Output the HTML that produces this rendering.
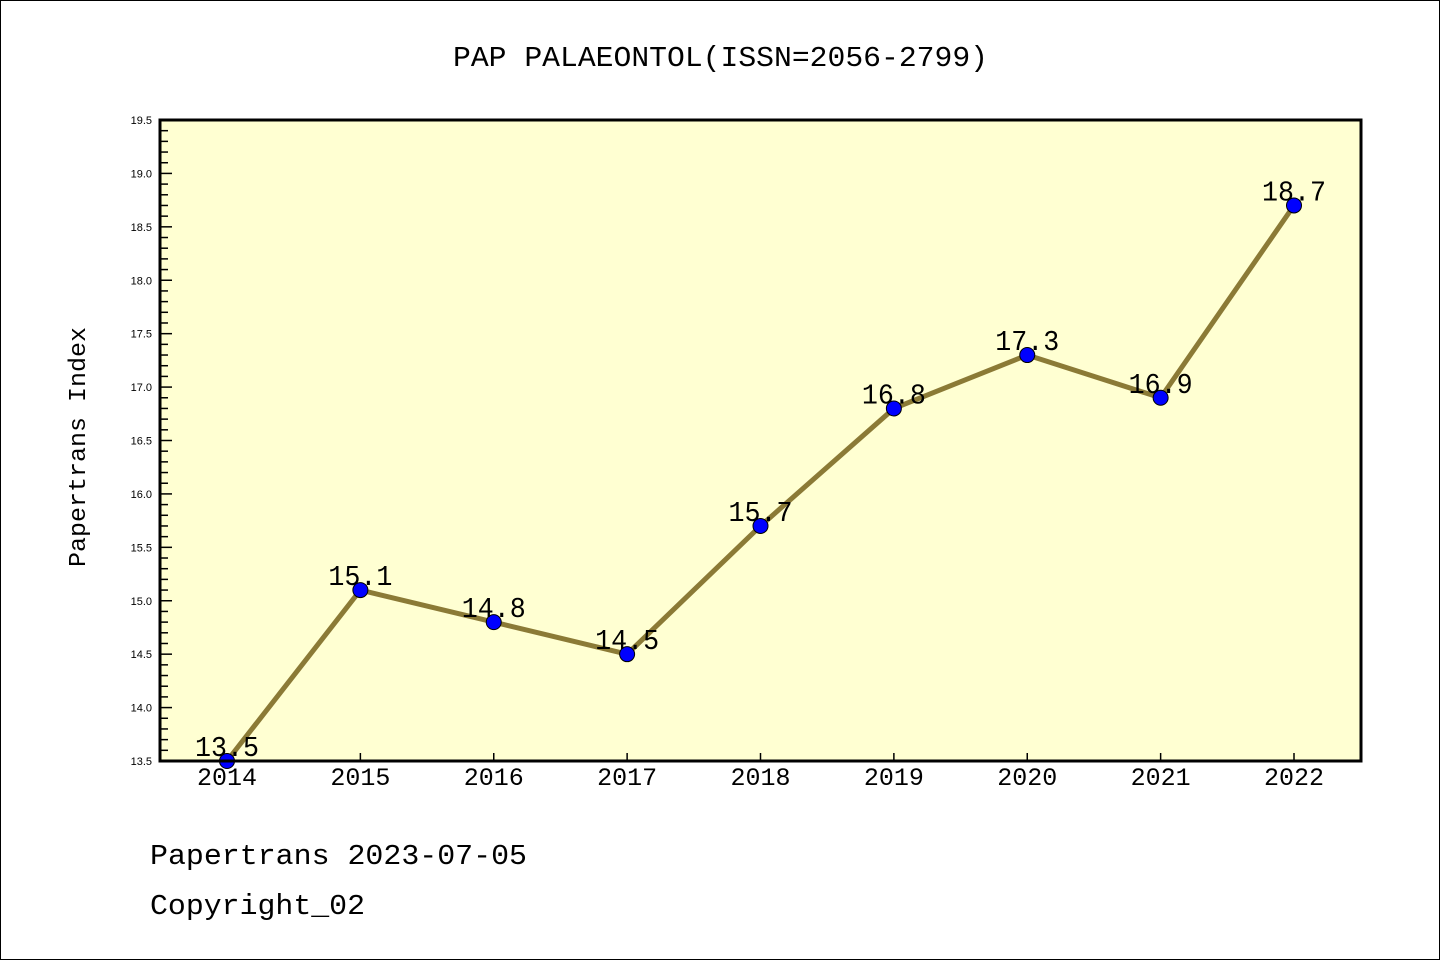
<!DOCTYPE html>
<html><head><meta charset="utf-8"><style>
html,body{margin:0;padding:0;background:#fff;}
svg{display:block;font-family:"Liberation Sans",sans-serif;}
.m{font-family:"Liberation Mono","DejaVu Sans Mono",monospace;}
</style></head><body>
<svg id="chart" width="1440" height="960" viewBox="0 0 1440 960" xmlns="http://www.w3.org/2000/svg">
<rect x="0.5" y="0.5" width="1439" height="959" fill="#fff" stroke="#000" stroke-width="1"/>
<text class="m" x="453" y="66" font-size="29" textLength="535" lengthAdjust="spacingAndGlyphs">PAP PALAEONTOL(ISSN=2056-2799)</text>
<rect x="160" y="120" width="1201" height="641" fill="#ffffd2"/>
<g id="yaxis"></g>
<g id="xaxis"></g>
<g id="series"></g>
<rect x="160" y="120" width="1201" height="641" fill="none" stroke="#000" stroke-width="3"/>
<text class="m" x="0" y="0" font-size="24" textLength="240" lengthAdjust="spacingAndGlyphs" transform="translate(85 567) rotate(-90)">Papertrans Index</text>
<text class="m" x="150" y="864" font-size="29" textLength="377" lengthAdjust="spacingAndGlyphs">Papertrans 2023-07-05</text>
<text class="m" x="150" y="914" font-size="29" textLength="215" lengthAdjust="spacingAndGlyphs">Copyright_02</text>
</svg>
<script>
const categories = ["2014","2015","2016","2017","2018","2019","2020","2021","2022"];
const values = [13.5,15.1,14.8,14.5,15.7,16.8,17.3,16.9,18.7];
const valueLabels = ["13.5","15.1","14.8","14.5","15.7","16.8","17.3","16.9","18.7"];
const yTicks = ["13.5","14.0","14.5","15.0","15.5","16.0","16.5","17.0","17.5","18.0","18.5","19.0","19.5"];
const yMin = 13.5, yMax = 19.5;
const NS = "http://www.w3.org/2000/svg";
const L=160,R=1361,T=120,B=761;
const x0=227, x1=1294;
function xPos(i){return x0+(x1-x0)*i/(categories.length-1);}
function yPos(v){return B-(v-yMin)/(yMax-yMin)*(B-T);}
function mk(tag,attrs,parent,text){const e=document.createElementNS(NS,tag);for(const k in attrs)e.setAttribute(k,attrs[k]);if(text!==undefined)e.textContent=text;parent.appendChild(e);return e;}
const ya=document.getElementById('yaxis'), xa=document.getElementById('xaxis'), sg=document.getElementById('series');
for(let v=yMin; v<=yMax+1e-9; v+=0.1){
  const major=Math.abs(v*2-Math.round(v*2))<1e-6;
  const t=mk('line',{x1:L,x2:L+(major?12:8),y1:yPos(v),y2:yPos(v),stroke:'#000','stroke-width':1.5},ya);
  
  
}
yTicks.forEach(s=>{
  const t=mk('text',{x:152,y:yPos(parseFloat(s))+4,'text-anchor':'end','font-size':11},ya,s);
  
  
});
categories.forEach((c,i)=>{
  const tk=mk('line',{x1:xPos(i),x2:xPos(i),y1:B,y2:B-8,stroke:'#000','stroke-width':1.5},xa);
  
  
  const t=mk('text',{class:'m',x:xPos(i)-30,y:785,'font-size':25,textLength:60,lengthAdjust:'spacingAndGlyphs'},xa,c);
  
  
});
const pts=values.map((v,i)=>xPos(i)+','+yPos(v)).join(' ');
const pl=mk('polyline',{points:pts,fill:'none',stroke:'#8b7a36','stroke-width':5,'stroke-linejoin':'round'},sg);


values.forEach((v,i)=>{
  const c=mk('circle',{cx:xPos(i),cy:yPos(v),r:7.5,fill:'#0000ff',stroke:'#000','stroke-width':1},sg);
  
  
  const t=mk('text',{class:'m',x:xPos(i)-32,y:yPos(v)-5,'font-size':29,textLength:64,lengthAdjust:'spacingAndGlyphs'},sg,valueLabels[i]);
  
  
});
</script>
</body></html>
